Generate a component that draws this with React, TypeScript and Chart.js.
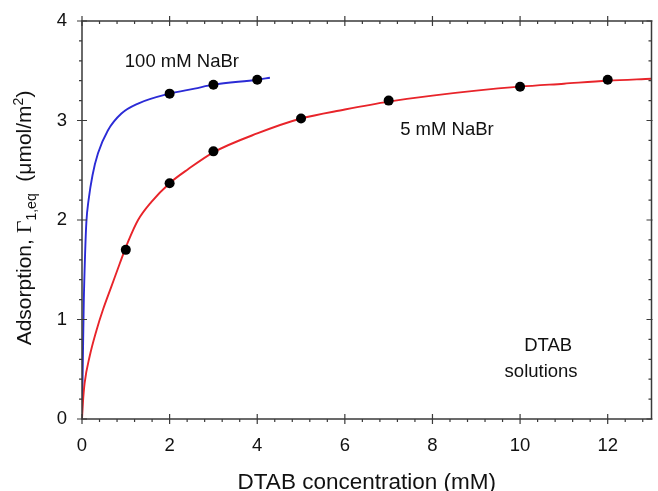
import React, { useEffect, useRef } from "react";
import { Chart, registerables } from "chart.js";

Chart.register(...registerables);

// 5 mM NaBr fitted curve
const curve5X = [0, 0.02, 0.06, 0.175, 0.33, 0.48, 0.67, 0.86, 1.05, 1.28, 1.58, 2, 2.42, 3, 4, 5, 6, 7, 8, 9, 10, 11, 12, 13];
const curve5Y = [0, 0.16, 0.36, 0.63, 0.89, 1.1, 1.33, 1.56, 1.78, 2.0, 2.18, 2.37, 2.51, 2.68, 2.87, 3.02, 3.11, 3.19, 3.25, 3.3, 3.34, 3.37, 3.4, 3.42];
// 100 mM NaBr fitted curve
const curve100X = [0, 0.02, 0.04, 0.07, 0.1, 0.15, 0.24, 0.365, 0.59, 0.9, 1.28, 2, 2.57, 3, 4, 4.29];
const curve100Y = [0, 0.6, 1.16, 1.65, 1.98, 2.2, 2.45, 2.67, 2.9, 3.07, 3.17, 3.27, 3.32, 3.36, 3.41, 3.43];
// measured points
const points5X = [1, 2, 3, 5, 7, 10, 12];
const points5Y = [1.7, 2.37, 2.69, 3.02, 3.2, 3.34, 3.41];
const points100X = [2, 3, 4];
const points100Y = [3.27, 3.36, 3.41];
// axis ticks
const xMajor = [0, 2, 4, 6, 8, 10, 12];
const xMinorStep = 0.4;
const yMajor = [0, 1, 2, 3, 4];
const yMinorStep = 0.2;
const xMin = 0, xMax = 13, yMin = 0, yMax = 4;

const SANS = "'Liberation Sans', Arial, sans-serif";
const SERIF = "'Liberation Serif', 'Times New Roman', serif";

const toPts = (xs: number[], ys: number[]) => xs.map((x, i) => ({ x, y: ys[i] }));

const decor = {
  id: "decor",
  afterDraw(chart: any) {
    const ctx = chart.ctx as CanvasRenderingContext2D;
    const xs = chart.scales.x, ys = chart.scales.y;
    const { left, right, top, bottom } = chart.chartArea;
    ctx.save();
    ctx.strokeStyle = "#3a3a3a";
    ctx.lineWidth = 1.5;
    ctx.strokeRect(left, top, right - left, bottom - top);
    ctx.lineWidth = 1.2;
    ctx.beginPath();
    for (let v = xMin; v <= xMax + 1e-9; v += xMinorStep) {
      const px = xs.getPixelForValue(v);
      const isMajor = xMajor.some((m) => Math.abs(m - v) < 1e-6);
      if (isMajor) {
        ctx.moveTo(px, bottom - 5); ctx.lineTo(px, bottom + 5);
        ctx.moveTo(px, top - 5); ctx.lineTo(px, top + 5);
      } else {
        ctx.moveTo(px, bottom); ctx.lineTo(px, bottom + 3);
        ctx.moveTo(px, top); ctx.lineTo(px, top + 3);
      }
    }
    for (let v = yMin; v <= yMax + 1e-9; v += yMinorStep) {
      const py = ys.getPixelForValue(v);
      const isMajor = yMajor.some((m) => Math.abs(m - v) < 1e-6);
      if (isMajor) {
        ctx.moveTo(left - 5, py); ctx.lineTo(left + 5, py);
        ctx.moveTo(right - 5, py); ctx.lineTo(right + 1, py);
      } else {
        ctx.moveTo(left - 3, py); ctx.lineTo(left, py);
        ctx.moveTo(right - 3, py); ctx.lineTo(right, py);
      }
    }
    ctx.stroke();

    // annotations
    ctx.fillStyle = "#111";
    ctx.textAlign = "center";
    ctx.textBaseline = "middle";
    ctx.font = `18.5px ${SANS}`;
    const note = (t: string, x: number, y: number) =>
      ctx.fillText(t, xs.getPixelForValue(x), ys.getPixelForValue(y));
    note("100 mM NaBr", 2.28, 3.59);
    note("5 mM NaBr", 8.33, 2.91);
    note("DTAB", 10.64, 0.73);
    note("solutions", 10.48, 0.47);

    // x title
    ctx.font = `22.5px ${SANS}`;
    ctx.textBaseline = "alphabetic";
    ctx.fillText("DTAB concentration (mM)", (left + right) / 2, 489);

    // y title with sub/superscripts
    const segs: { t: string; f: string; dy: number }[] = [
      { t: "Adsorption, ", f: `21px ${SANS}`, dy: 0 },
      { t: "\u0393", f: `22px ${SERIF}`, dy: 0 },
      { t: "1,eq", f: `14px ${SANS}`, dy: 5 },
      { t: "  (\u03bcmol/m", f: `21px ${SANS}`, dy: 0 },
      { t: "2", f: `14px ${SANS}`, dy: -8 },
      { t: ")", f: `21px ${SANS}`, dy: 0 },
    ];
    let total = 0;
    for (const s of segs) { ctx.font = s.f; total += ctx.measureText(s.t).width; }
    ctx.translate(31, 218);
    ctx.rotate(-Math.PI / 2);
    ctx.textAlign = "left";
    let cx = -total / 2;
    for (const s of segs) {
      ctx.font = s.f;
      ctx.fillText(s.t, cx, s.dy);
      cx += ctx.measureText(s.t).width;
    }
    ctx.restore();
  },
};

export default function App() {
  const ref = useRef<HTMLCanvasElement>(null);
  useEffect(() => {
    document.body.style.margin = "0";
    const chart = new Chart(ref.current as HTMLCanvasElement, {
      type: "scatter",
      data: {
        datasets: [
          {
            label: "5 mM NaBr fit",
            data: toPts(curve5X, curve5Y),
            showLine: true,
            borderColor: "#e8242a",
            borderWidth: 1.9,
            pointRadius: 0,
            cubicInterpolationMode: "monotone",
            order: 2,
          },
          {
            label: "100 mM NaBr fit",
            data: toPts(curve100X, curve100Y),
            showLine: true,
            borderColor: "#2b2bd6",
            borderWidth: 1.9,
            pointRadius: 0,
            cubicInterpolationMode: "monotone",
            order: 2,
          },
          {
            label: "5 mM NaBr",
            data: toPts(points5X, points5Y),
            backgroundColor: "#000",
            borderWidth: 0,
            pointRadius: 5,
            order: 1,
          },
          {
            label: "100 mM NaBr",
            data: toPts(points100X, points100Y),
            backgroundColor: "#000",
            borderWidth: 0,
            pointRadius: 5,
            order: 1,
          },
        ],
      } as any,
      options: {
        animation: false,
        responsive: false,
        layout: { padding: { top: 21, right: 6.5, left: 0, bottom: 0 } },
        plugins: { legend: { display: false }, tooltip: { enabled: false } },
        scales: {
          x: {
            type: "linear",
            min: xMin,
            max: xMax,
            grid: { display: false, drawTicks: false },
            border: { display: false },
            ticks: {
              stepSize: 2,
              includeBounds: false,
              padding: 16,
              color: "#111",
              font: { family: SANS, size: 18.5 },
            },
            afterFit: (s: any) => { s.height = 72; s.paddingLeft = 0; s.paddingRight = 0; },
          },
          y: {
            type: "linear",
            min: yMin,
            max: yMax,
            grid: { display: false, drawTicks: false },
            border: { display: false },
            ticks: {
              stepSize: 1,
              padding: 15,
              color: "#111",
              font: { family: SANS, size: 18.5 },
            },
            afterFit: (s: any) => { s.width = 82; s.paddingTop = 0; s.paddingBottom = 0; },
          },
        },
      } as any,
      plugins: [decor],
    });
    return () => chart.destroy();
  }, []);
  return (
    <div style={{ width: 658, height: 491 }}>
      <canvas ref={ref} width={658} height={491} />
    </div>
  );
}
